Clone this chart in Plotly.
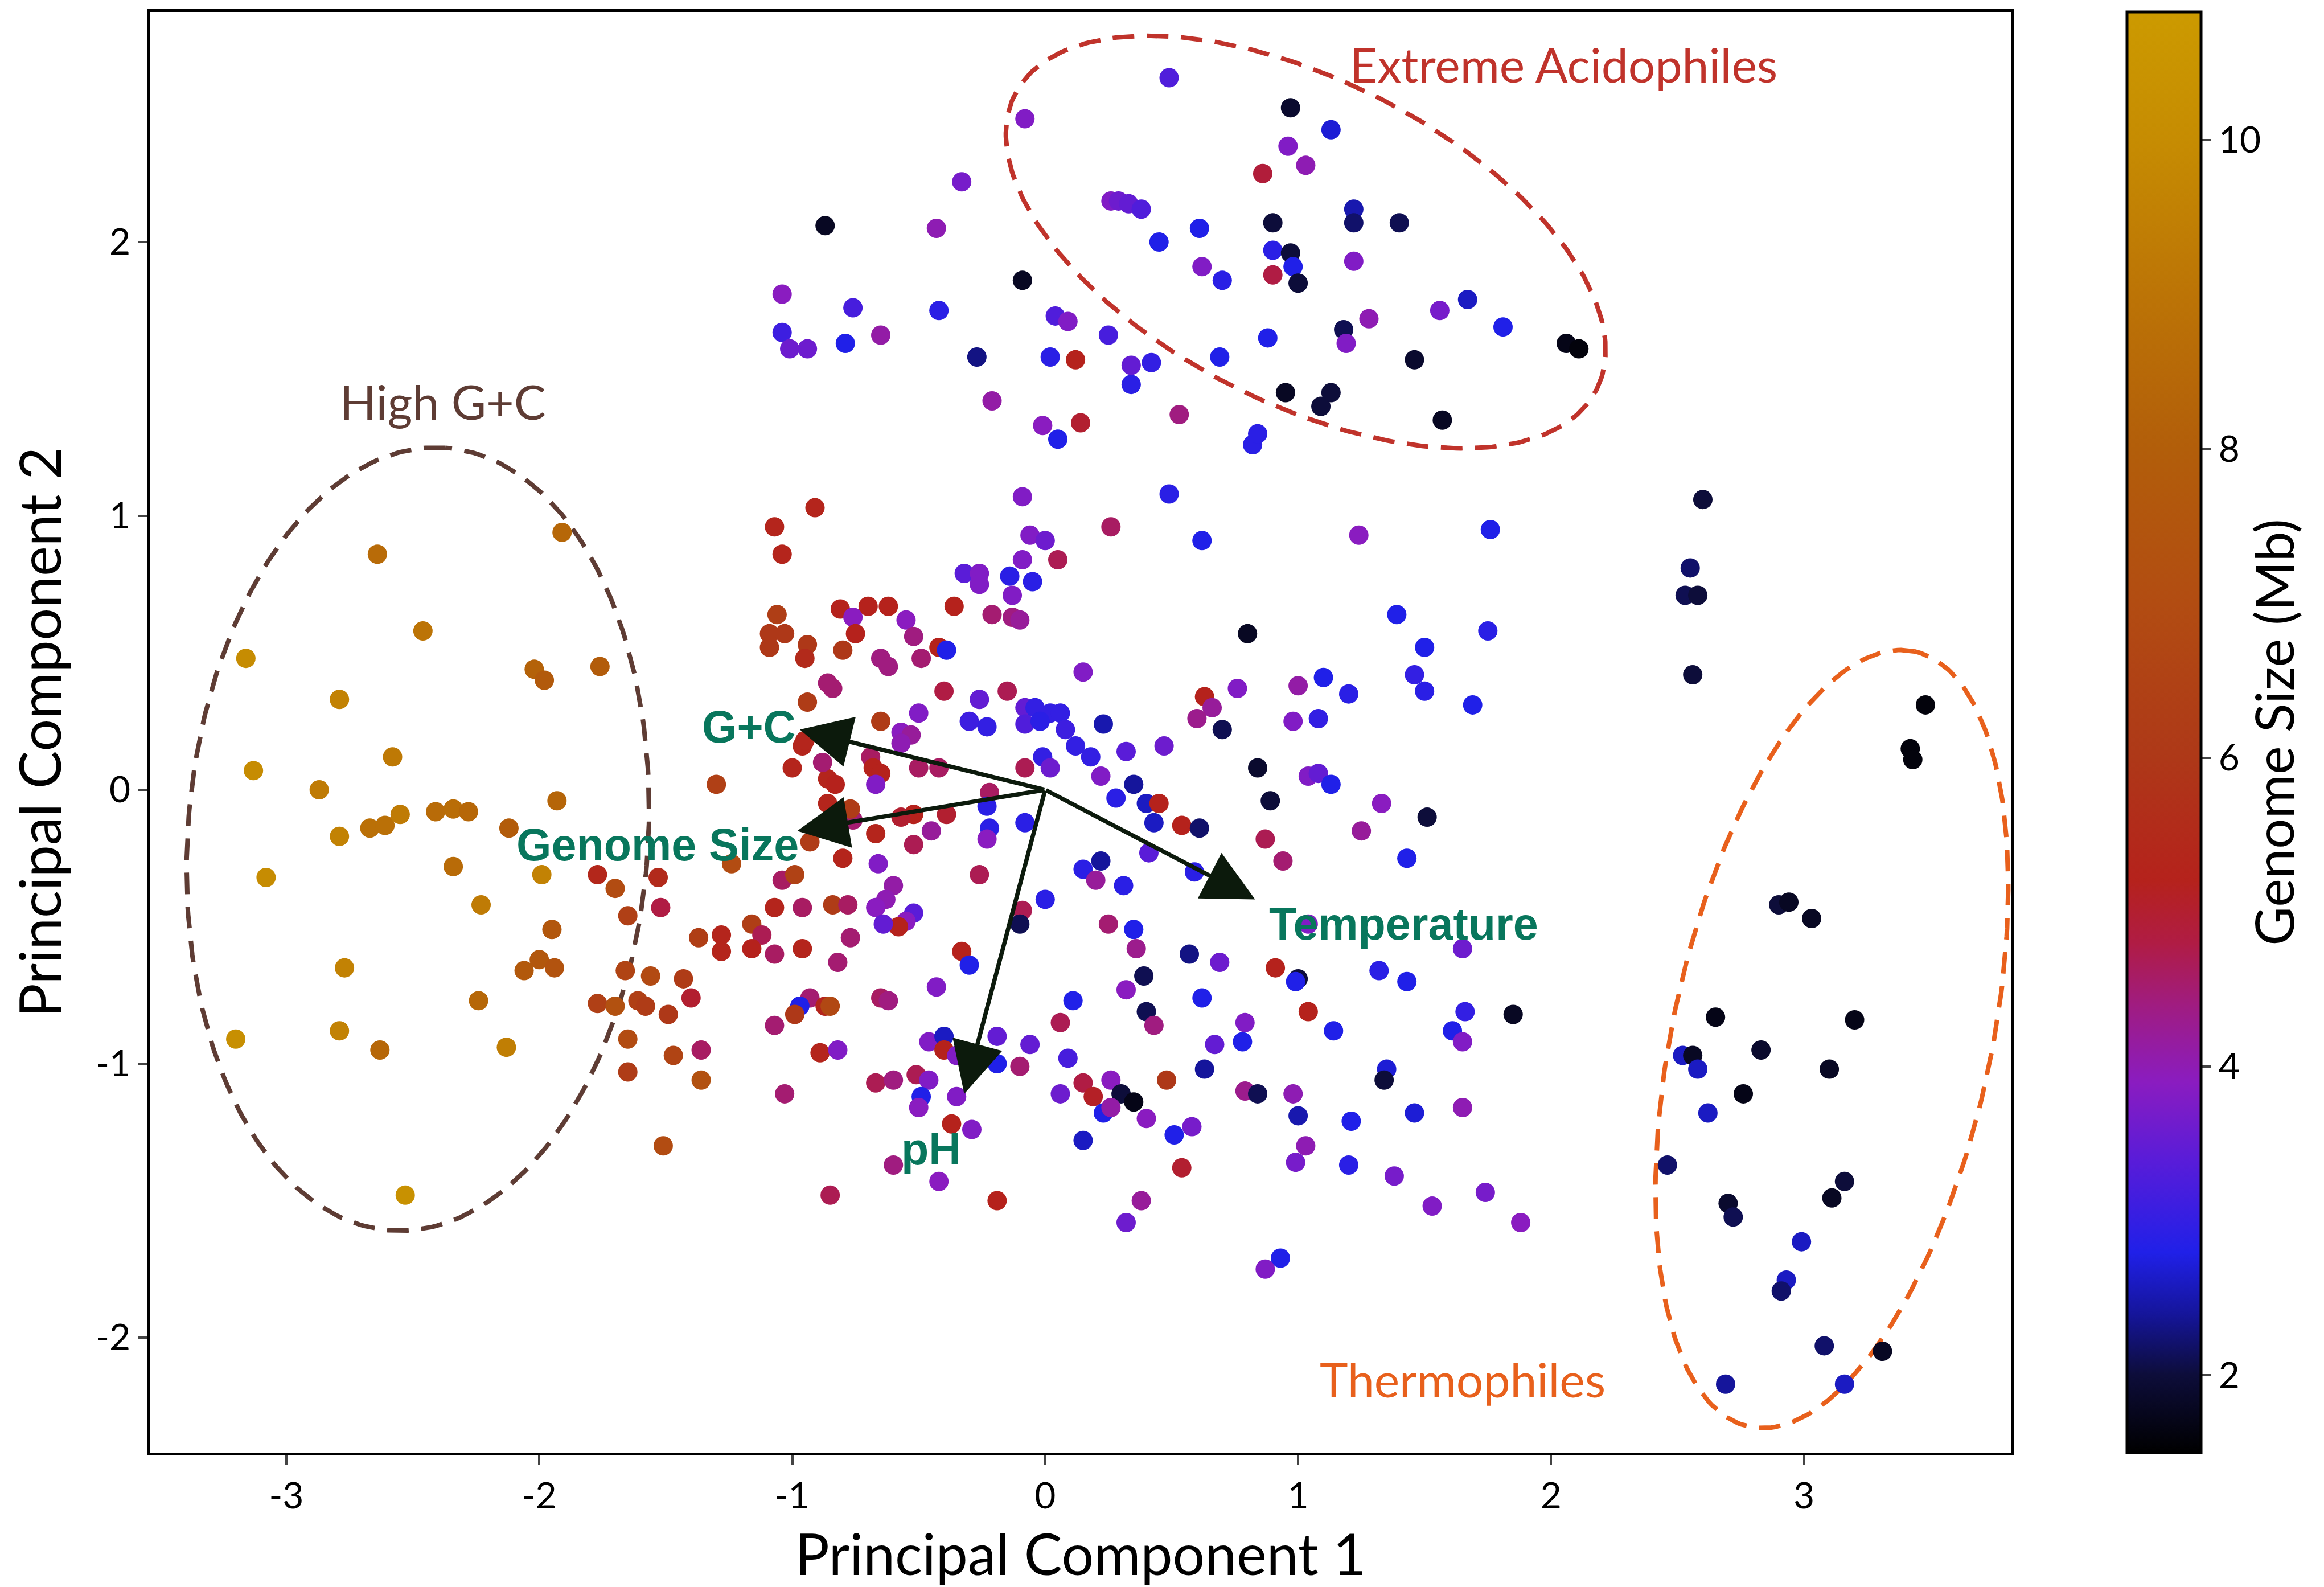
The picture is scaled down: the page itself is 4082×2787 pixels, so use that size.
import numpy as np
import plotly.graph_objects as go

# (PC1, PC2, genome size in Mb), grouped by region of the plot
high_gc_side = [
    (-3.16, 0.48, 10.0), (-3.13, 0.07, 10.0), (-3.08, -0.32, 10.0), (-3.20, -0.91, 10.2),
    (-2.79, 0.33, 9.6), (-2.87, 0.00, 9.3), (-2.79, -0.17, 9.6), (-2.77, -0.65, 9.6),
    (-2.79, -0.88, 9.6), (-2.64, 0.86, 8.6), (-2.46, 0.58, 9.0), (-2.58, 0.12, 9.2),
    (-2.67, -0.14, 8.8), (-2.61, -0.13, 8.8), (-2.55, -0.09, 9.3), (-2.41, -0.08, 8.6),
    (-2.34, -0.07, 8.7), (-2.28, -0.08, 8.4), (-2.34, -0.28, 8.6), (-2.23, -0.42, 9.3),
    (-2.24, -0.77, 8.4), (-2.13, -0.94, 9.4), (-2.63, -0.95, 8.4), (-2.53, -1.48, 10.3),
    (-2.02, 0.44, 8.2), (-1.98, 0.40, 7.8), (-1.76, 0.45, 7.9), (-1.91, 0.94, 8.4),
    (-1.93, -0.04, 8.3), (-1.99, -0.31, 9.6), (-2.12, -0.14, 7.9), (-1.95, -0.51, 7.6),
    (-2.06, -0.66, 7.7), (-2.00, -0.62, 7.6), (-1.94, -0.65, 7.4), (-1.77, -0.31, 5.4),
    (-1.70, -0.36, 7.0), (-1.65, -0.46, 6.4), (-1.53, -0.32, 5.5), (-1.52, -0.43, 4.8),
    (-1.66, -0.66, 6.6), (-1.56, -0.68, 6.9), (-1.43, -0.69, 6.2), (-1.40, -0.76, 5.0),
    (-1.77, -0.78, 6.4), (-1.70, -0.79, 7.3), (-1.61, -0.77, 6.4), (-1.58, -0.79, 6.2),
    (-1.49, -0.82, 6.0), (-1.65, -0.91, 7.0), (-1.47, -0.97, 6.6), (-1.65, -1.03, 6.2),
    (-1.51, -1.30, 7.0), (-1.24, -0.27, 7.0),
]

center_band = [
    (-1.07, 0.96, 5.3), (0.26, 0.96, 4.6), (0.62, 0.91, 2.8), (-0.06, 0.93, 3.8),
    (0.00, 0.91, 3.6), (0.05, 0.84, 4.7), (-0.09, 0.84, 3.8), (-0.14, 0.78, 2.9),
    (-0.05, 0.76, 2.9), (-0.32, 0.79, 3.4), (-0.26, 0.79, 3.8), (-0.26, 0.75, 3.8),
    (-0.13, 0.71, 3.8), (-0.21, 0.64, 4.5), (-0.13, 0.63, 4.4), (-0.10, 0.62, 4.2),
    (-0.36, 0.67, 5.2), (-0.81, 0.66, 5.2), (-0.70, 0.67, 5.2), (-0.62, 0.67, 5.2),
    (-0.76, 0.63, 3.9), (-0.75, 0.57, 5.2), (-0.55, 0.62, 3.9), (-0.52, 0.56, 4.4),
    (-1.06, 0.64, 6.3), (-1.09, 0.57, 6.0), (-1.03, 0.57, 6.0), (-1.09, 0.52, 6.0),
    (-0.94, 0.53, 6.0), (-0.95, 0.48, 5.5), (-0.80, 0.51, 6.0), (-0.65, 0.48, 4.4),
    (-0.62, 0.45, 4.4), (-0.49, 0.48, 4.5), (-0.42, 0.52, 5.2), (-0.39, 0.51, 2.8),
    (0.15, 0.43, 3.8), (0.80, 0.57, 1.8), (-0.86, 0.39, 4.5), (-0.84, 0.37, 4.5),
    (-0.94, 0.32, 6.2), (-0.40, 0.36, 4.8), (-0.26, 0.33, 3.5), (-0.15, 0.36, 4.7),
    (0.76, 0.37, 3.8), (0.63, 0.34, 5.2), (0.66, 0.30, 4.2), (0.60, 0.26, 4.3),
    (-0.65, 0.25, 6.2), (-0.50, 0.28, 3.8), (-0.57, 0.21, 3.9), (-0.53, 0.20, 4.2),
    (-0.57, 0.17, 4.0), (-0.30, 0.25, 3.1), (-0.23, 0.23, 3.0), (-0.08, 0.30, 3.5),
    (-0.04, 0.30, 3.0), (0.02, 0.28, 3.0), (0.06, 0.28, 3.0), (0.08, 0.22, 3.1),
    (-0.08, 0.24, 3.3), (-0.02, 0.25, 2.9), (0.23, 0.24, 2.5), (0.47, 0.16, 3.6),
    (0.32, 0.14, 3.4), (0.70, 0.22, 2.1), (0.12, 0.16, 3.0), (0.18, 0.12, 3.0),
    (0.22, 0.05, 3.8), (-0.01, 0.12, 3.0), (0.02, 0.08, 3.6), (-0.08, 0.08, 4.7),
    (-0.22, -0.01, 4.6), (0.28, -0.03, 2.9), (0.35, 0.02, 2.4), (0.40, -0.05, 2.6),
    (0.45, -0.05, 5.2), (0.43, -0.12, 2.6), (0.54, -0.13, 5.2), (0.61, -0.14, 2.2),
    (0.41, -0.23, 3.4), (0.59, -0.30, 2.9), (0.15, -0.29, 2.9), (0.22, -0.26, 2.4),
    (0.20, -0.33, 4.2), (0.31, -0.35, 2.9), (0.00, -0.40, 2.9), (-0.09, -0.44, 4.7),
    (-0.10, -0.49, 2.1), (-0.66, -0.27, 3.8), (-0.60, -0.35, 4.1), (-0.63, -0.40, 4.0),
    (-0.67, -0.43, 3.9), (-0.52, -0.45, 3.4), (-0.55, -0.48, 3.9), (-0.58, -0.50, 5.2),
    (-0.64, -0.49, 3.5), (-0.52, -0.20, 4.7), (-0.45, -0.15, 4.2), (-0.52, -0.09, 5.2),
    (-0.39, -0.09, 5.0), (-0.57, -0.10, 5.0), (-0.67, -0.16, 5.3), (-0.76, -0.11, 4.5),
    (-0.77, -0.07, 6.2), (-0.86, -0.05, 5.3), (-0.84, -0.09, 5.3), (-0.23, -0.06, 2.9),
    (-0.22, -0.14, 2.9), (-0.23, -0.18, 3.9), (-0.08, -0.12, 2.9), (-0.26, -0.31, 4.7),
    (-0.80, -0.25, 5.3), (-0.93, -0.19, 6.2), (-1.04, -0.33, 4.6), (-0.99, -0.31, 6.5),
    (-1.07, -0.43, 5.3), (-0.96, -0.43, 4.6), (-0.84, -0.42, 6.2), (-0.78, -0.42, 4.6),
    (-1.37, -0.54, 6.3), (-1.28, -0.53, 5.3), (-1.16, -0.49, 6.3), (-1.12, -0.53, 4.7),
    (-1.28, -0.59, 5.3), (-1.16, -0.58, 5.2), (-1.07, -0.60, 4.6), (-0.96, -0.58, 5.3),
    (-0.82, -0.63, 4.5), (-0.77, -0.54, 4.5), (-0.33, -0.59, 5.2), (-0.30, -0.64, 2.8),
    (-1.00, 0.08, 5.3), (-0.86, 0.04, 5.3), (-0.83, 0.02, 5.2), (-0.88, 0.10, 4.5),
    (-0.96, 0.16, 5.3), (-1.30, 0.02, 6.4), (-0.69, 0.12, 4.6), (-0.68, 0.08, 5.2),
    (-0.65, 0.06, 5.2), (-0.67, 0.02, 3.8), (-0.50, 0.08, 4.6), (-0.42, 0.08, 4.6),
    (-0.95, 0.18, 5.3), (-1.04, 0.86, 5.3),
]

lower_middle = [
    (-1.36, -0.95, 4.6), (-1.36, -1.06, 7.3), (-1.03, -1.11, 4.5), (-1.07, -0.86, 4.5),
    (-0.93, -0.76, 4.5), (-0.97, -0.79, 2.8), (-0.99, -0.82, 6.0), (-0.87, -0.79, 5.3),
    (-0.85, -0.79, 6.8), (-0.89, -0.96, 5.3), (-0.82, -0.95, 3.8), (-0.65, -0.76, 4.6),
    (-0.62, -0.77, 4.4), (-0.67, -1.07, 4.7), (-0.60, -1.06, 4.4), (-0.51, -1.04, 4.7),
    (-0.46, -1.06, 3.8), (-0.49, -1.12, 2.8), (-0.50, -1.16, 3.9), (-0.43, -0.72, 3.8),
    (-0.46, -0.92, 3.8), (-0.40, -0.90, 2.6), (-0.40, -0.95, 5.2), (-0.35, -0.97, 3.8),
    (-0.35, -1.12, 3.8), (-0.19, -0.90, 3.5), (-0.06, -0.93, 3.5), (-0.19, -1.00, 2.8),
    (-0.10, -1.01, 4.5), (-0.29, -1.24, 3.8), (-0.37, -1.22, 5.2), (-0.60, -1.37, 4.4),
    (-0.42, -1.43, 3.9), (-0.85, -1.48, 4.7), (-0.19, -1.50, 5.2), (0.25, -0.49, 4.5),
    (0.35, -0.51, 2.8), (0.36, -0.58, 4.3), (0.57, -0.60, 2.3), (0.69, -0.63, 3.6),
    (0.39, -0.68, 2.1), (0.32, -0.73, 3.9), (0.62, -0.76, 2.8), (0.40, -0.81, 2.1),
    (0.43, -0.86, 4.4), (0.11, -0.77, 2.8), (0.06, -0.85, 4.7), (0.09, -0.98, 3.2),
    (0.06, -1.11, 3.6), (0.15, -1.07, 4.8), (0.19, -1.12, 5.1), (0.26, -1.06, 3.9),
    (0.30, -1.11, 2.0), (0.35, -1.14, 1.7), (0.23, -1.18, 2.8), (0.26, -1.16, 4.1),
    (0.40, -1.20, 3.9), (0.15, -1.28, 2.6), (0.51, -1.26, 2.8), (0.58, -1.23, 3.7),
    (0.48, -1.06, 6.0), (0.54, -1.38, 5.0), (0.38, -1.50, 4.2), (0.32, -1.58, 3.6),
    (0.79, -0.85, 3.8), (0.78, -0.92, 2.8), (0.67, -0.93, 3.5), (0.63, -1.02, 2.4),
    (0.79, -1.10, 4.3), (0.84, -1.11, 2.1), (0.98, -1.11, 4.0), (1.00, -1.19, 2.5),
    (0.91, -0.65, 5.2), (1.00, -0.69, 2.0), (0.99, -0.70, 2.8), (1.04, -0.81, 5.2),
    (1.03, -1.30, 4.0), (0.99, -1.36, 3.7), (0.93, -1.71, 2.8), (0.87, -1.75, 3.8),
]

upper_region = [
    (-0.87, 2.06, 1.8), (-1.04, 1.81, 3.9), (-1.04, 1.67, 3.1), (-1.01, 1.61, 3.6),
    (-0.94, 1.61, 3.6), (-0.76, 1.76, 3.2), (-0.79, 1.63, 2.8), (-0.65, 1.66, 4.1),
    (-0.33, 2.22, 3.7), (-0.43, 2.05, 4.0), (-0.42, 1.75, 2.9), (-0.27, 1.58, 2.3),
    (-0.21, 1.42, 4.1), (-0.09, 1.86, 1.8), (-0.08, 2.45, 3.8), (0.04, 1.73, 3.3),
    (0.09, 1.71, 3.8), (0.02, 1.58, 2.9), (0.12, 1.57, 5.2), (-0.01, 1.33, 3.9),
    (0.05, 1.28, 2.8), (0.14, 1.34, 5.0), (-0.09, 1.07, 3.8), (0.49, 2.60, 3.3),
    (0.26, 2.15, 3.8), (0.29, 2.15, 3.6), (0.33, 2.14, 3.5), (0.38, 2.12, 3.3),
    (0.25, 1.66, 3.2), (0.34, 1.55, 3.5), (0.42, 1.56, 3.0), (0.34, 1.48, 2.9),
    (0.45, 2.00, 2.8), (0.61, 2.05, 2.8), (0.62, 1.91, 3.8), (0.70, 1.86, 2.9),
    (0.69, 1.58, 2.8), (0.53, 1.37, 4.4), (0.49, 1.08, 2.9), (0.86, 2.25, 4.9),
    (0.96, 2.35, 3.8), (0.97, 2.49, 1.9), (1.03, 2.28, 4.0), (1.13, 2.41, 2.7),
    (0.90, 2.07, 2.0), (0.90, 1.97, 2.9), (0.97, 1.96, 2.0), (0.98, 1.91, 2.8),
    (1.00, 1.85, 2.0), (0.90, 1.88, 4.8), (0.88, 1.65, 2.8), (0.95, 1.45, 1.8),
    (0.82, 1.26, 2.9), (0.84, 1.30, 2.9), (1.09, 1.40, 2.0), (1.13, 1.45, 2.0),
    (1.22, 2.12, 2.5), (1.22, 2.07, 2.2), (1.40, 2.07, 2.1), (1.22, 1.93, 3.8),
    (1.18, 1.68, 2.1), (1.19, 1.63, 3.8), (1.28, 1.72, 4.0), (1.46, 1.57, 1.9),
    (1.56, 1.75, 3.7), (1.67, 1.79, 2.6), (1.81, 1.69, 2.8), (1.57, 1.35, 1.8),
    (2.06, 1.63, 1.7), (2.11, 1.61, 1.6), (1.24, 0.93, 3.9), (1.76, 0.95, 2.8),
    (-0.91, 1.03, 5.3),
]

right_middle = [
    (1.39, 0.64, 2.8), (1.46, 0.42, 3.0), (1.50, 0.52, 2.8), (1.50, 0.36, 2.9),
    (1.69, 0.31, 2.8), (1.75, 0.58, 2.9), (1.00, 0.38, 4.1), (1.10, 0.41, 2.8),
    (0.98, 0.25, 3.8), (1.08, 0.26, 3.0), (1.20, 0.35, 2.9), (1.04, 0.05, 3.8),
    (1.08, 0.06, 3.5), (0.84, 0.08, 1.9), (0.89, -0.04, 2.0), (1.13, 0.02, 2.8),
    (0.87, -0.18, 4.7), (0.94, -0.26, 4.5), (1.04, -0.49, 3.8), (1.14, -0.88, 2.8),
    (1.32, -0.66, 2.9), (1.43, -0.70, 2.8), (1.61, -0.88, 2.8), (1.65, -0.58, 3.6),
    (1.85, -0.82, 1.8), (1.35, -1.02, 2.7), (1.34, -1.06, 2.0), (1.46, -1.18, 2.7),
    (1.21, -1.21, 2.8), (1.20, -1.37, 2.9), (1.38, -1.41, 3.7), (1.53, -1.52, 3.8),
    (1.74, -1.47, 3.7), (1.88, -1.58, 3.9), (1.65, -1.16, 4.0), (1.65, -0.92, 3.8),
    (1.66, -0.81, 3.0), (1.43, -0.25, 2.8), (1.51, -0.10, 2.0), (1.33, -0.05, 3.9),
    (1.25, -0.15, 4.2),
]

thermophile_side = [
    (2.60, 1.06, 2.0), (2.55, 0.81, 2.2), (2.53, 0.71, 2.1), (2.58, 0.71, 2.0),
    (2.56, 0.42, 2.0), (3.48, 0.31, 1.6), (3.42, 0.15, 1.6), (3.43, 0.11, 1.6),
    (2.90, -0.42, 2.0), (2.94, -0.41, 1.8), (3.03, -0.47, 1.8), (2.65, -0.83, 1.7),
    (2.83, -0.95, 1.9), (3.20, -0.84, 1.7), (3.10, -1.02, 1.8), (2.52, -0.97, 2.6),
    (2.56, -0.97, 1.8), (2.58, -1.02, 2.6), (2.76, -1.11, 1.7), (2.62, -1.18, 2.6),
    (2.46, -1.37, 2.2), (3.16, -1.43, 2.0), (3.11, -1.49, 1.8), (2.70, -1.51, 1.9),
    (2.72, -1.56, 2.1), (2.99, -1.65, 2.6), (2.93, -1.79, 2.6), (2.91, -1.83, 2.2),
    (3.08, -2.03, 2.2), (3.31, -2.05, 1.8), (3.16, -2.17, 2.6), (2.69, -2.17, 2.4),
]

# biplot loading arrows (tip positions) and their label positions
loading_names = ["G+C", "Genome Size", "Temperature", "pH"]
loading_pc1 = [-0.97, -0.98, 0.83, -0.32]
loading_pc2 = [0.22, -0.15, -0.40, -1.11]
label_pc1 = [-0.98, -0.97, 0.88, -0.45]
label_pc2 = [0.23, -0.20, -0.49, -1.31]
label_anchor = ["right", "right", "left", "center"]

# dashed group outlines: centre, semi-axes (in PC1 units), tilt in screen degrees
group_names = ["High G+C", "Extreme Acidophiles", "Thermophiles"]
group_cx = [-2.48, 1.03, 3.11]
group_cy = [-0.18, 2.0, -0.91]
group_a = [1.554, 1.29, 1.57]
group_b = [0.91, 0.64, 0.63]
group_tilt = [86, -27, 78]
group_colors = ["#5e3c34", "#c0332b", "#e8601c"]
group_label_x = [-2.38, 2.05, 1.65]
group_label_y = [1.42, 2.65, -2.15]

# y pixels per PC2 unit divided by x pixels per PC1 unit in the reference
ASPECT = 185 / 170.5

colorscale = [
    [0.0, "#000000"], [0.054, "#0d0d3a"], [0.096, "#15159a"], [0.139, "#2020e8"],
    [0.204, "#5a1cd8"], [0.257, "#8a1cc0"], [0.311, "#a01c80"], [0.354, "#b01c44"],
    [0.397, "#b5221c"], [0.482, "#ae3818"], [0.589, "#b24c12"], [0.697, "#b25e0a"],
    [0.804, "#bc7406"], [0.911, "#c68c02"], [1.0, "#cc9a00"],
]

points = high_gc_side + center_band + lower_middle + upper_region + right_middle + thermophile_side
pc1 = [p[0] for p in points]
pc2 = [p[1] for p in points]
genome = [p[2] for p in points]

fig = go.Figure()

for i in range(len(group_names)):
    t = np.linspace(0, 2 * np.pi, 300)
    th = np.radians(group_tilt[i])
    u = group_a[i] * np.cos(t) * np.cos(th) - group_b[i] * np.sin(t) * np.sin(th)
    v = group_a[i] * np.cos(t) * np.sin(th) + group_b[i] * np.sin(t) * np.cos(th)
    fig.add_trace(go.Scatter(x=group_cx[i] + u, y=group_cy[i] + v / ASPECT, mode="lines",
                             line=dict(color=group_colors[i], width=8, dash="38px,22px"),
                             hoverinfo="skip", showlegend=False))

fig.add_trace(go.Scatter(
    x=pc1, y=pc2, mode="markers",
    marker=dict(size=34, color=genome, colorscale=colorscale, cmin=1.5, cmax=10.83,
                line=dict(width=0),
                colorbar=dict(
                    title=dict(text="Genome Size (Mb)", side="right",
                               font=dict(family="Lato", size=94, color="black")),
                    x=1.062, xanchor="left", xpad=0, y=0.5, yanchor="middle", ypad=0,
                    len=1, lenmode="fraction", thickness=130, thicknessmode="pixels",
                    outlinewidth=5, outlinecolor="black",
                    tickvals=[2, 4, 6, 8, 10], ticks="outside", ticklen=16, tickwidth=4,
                    tickfont=dict(family="Lato", size=64, color="black"))),
    showlegend=False))

for i in range(len(loading_names)):
    fig.add_annotation(x=loading_pc1[i], y=loading_pc2[i], ax=0, ay=0, xref="x", yref="y",
                       axref="x", ayref="y", text="", showarrow=True, arrowhead=2,
                       arrowsize=2.4, arrowwidth=7.5, arrowcolor="#0c1a0c")
    fig.add_annotation(x=label_pc1[i], y=label_pc2[i], text=loading_names[i], showarrow=False,
                       xanchor=label_anchor[i], yanchor="middle",
                       font=dict(family="Liberation Sans", size=79, color="#08765c", weight="bold"))

for i in range(len(group_names)):
    fig.add_annotation(x=group_label_x[i], y=group_label_y[i], text=group_names[i], showarrow=False,
                       font=dict(family="Lato", size=84, color=group_colors[i]))

axis_font = dict(family="Lato", size=64, color="black")
fig.update_xaxes(range=[-3.54, 3.82], tickvals=[-3, -2, -1, 0, 1, 2, 3],
                 ticktext=["-3", "-2", "-1", "0", "1", "2", "3"],
                 showline=True, mirror=True, linecolor="black", linewidth=5,
                 ticks="outside", ticklen=16, tickwidth=4, tickfont=axis_font,
                 showgrid=False, zeroline=False,
                 title=dict(text="Principal Component 1", standoff=36,
                            font=dict(family="Lato", size=100, color="black")))
fig.update_yaxes(range=[-2.42, 2.84], tickvals=[-2, -1, 0, 1, 2],
                 ticktext=["-2", "-1", "0", "1", "2"],
                 showline=True, mirror=True, linecolor="black", linewidth=5,
                 ticks="outside", ticklen=16, tickwidth=4, tickfont=axis_font,
                 showgrid=False, zeroline=False,
                 title=dict(text="Principal Component 2", standoff=40,
                            font=dict(family="Lato", size=100, color="black")))

fig.update_layout(width=4082, height=2787, plot_bgcolor="white", paper_bgcolor="white",
                  margin=dict(l=255, r=557, t=13, b=244, autoexpand=False))

fig.write_html("out.html")
